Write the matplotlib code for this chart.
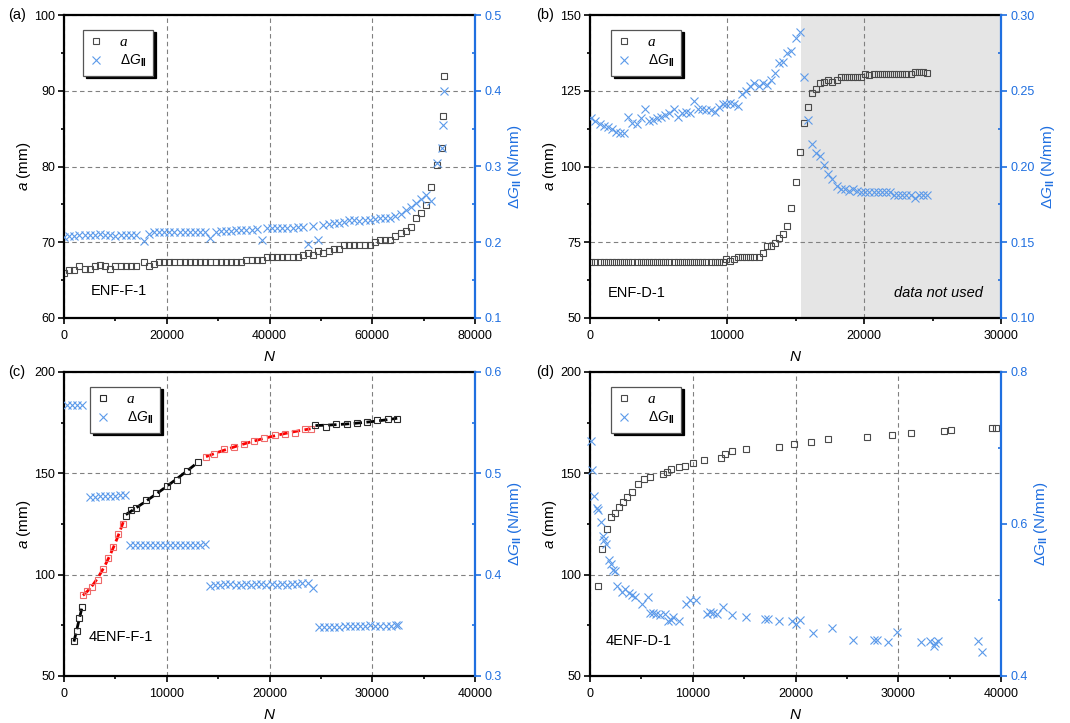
import matplotlib
matplotlib.use('Agg')
import matplotlib.pyplot as plt
from matplotlib.ticker import MultipleLocator, FormatStrFormatter
from matplotlib.lines import Line2D
import numpy as np

plt.rcParams['font.family'] = ['Liberation Sans', 'DejaVu Sans']
plt.rcParams['mathtext.fontset'] = 'custom'
plt.rcParams['mathtext.rm'] = 'Liberation Sans'
plt.rcParams['mathtext.it'] = 'Liberation Sans:italic'
plt.rcParams['mathtext.bf'] = 'Liberation Sans:bold'

# ---------------- data ----------------
# (a) ENF-F-1
a_N = [0, 1000, 2000, 3000, 4000, 5000, 6000, 7000, 8000, 9000, 10000, 11000, 12000, 13000, 14000,
       15500, 16500, 17500, 18500, 19500, 20500, 21500, 22500, 23500, 24500, 25500, 26500, 27500,
       28500, 29500, 30500, 31500, 32500, 33500, 34500, 35500, 36500, 37500, 38500, 39500, 40500,
       41500, 42500, 43500, 44500, 45500, 46500, 47500, 48500, 49500, 50500, 51500, 52500, 53500,
       54500, 55500, 56500, 57500, 58500, 59500, 60500, 61500, 62500, 63500, 64500, 65500, 66500,
       67500, 68500, 69500, 70500, 71500, 72700, 73600, 73800, 73900]
a_a = [65.9, 66.3, 66.3, 66.8, 66.5, 66.5, 66.8, 67.0, 66.8, 66.5, 66.8, 66.8, 66.8, 66.8, 66.8,
       67.4, 66.8, 67.1, 67.4, 67.4, 67.4, 67.4, 67.4, 67.4, 67.4, 67.4, 67.4, 67.4,
       67.4, 67.4, 67.4, 67.4, 67.4, 67.4, 67.4, 67.7, 67.7, 67.7, 67.7, 68.0, 68.0,
       68.0, 68.0, 68.0, 68.0, 68.0, 68.3, 68.6, 68.3, 68.8, 68.6, 68.9, 69.1, 69.1,
       69.7, 69.7, 69.7, 69.7, 69.7, 69.7, 70.0, 70.3, 70.3, 70.3, 70.8, 71.2, 71.5,
       72.0, 73.2, 73.8, 74.9, 77.3, 80.2, 82.5, 86.7, 92.0]
a_G = [0.207, 0.208, 0.208, 0.209, 0.209, 0.210, 0.210, 0.211, 0.210, 0.209, 0.208, 0.210, 0.210, 0.210, 0.209,
       0.201, 0.211, 0.213, 0.214, 0.214, 0.213, 0.214, 0.214, 0.214, 0.214, 0.214, 0.214, 0.214,
       0.206, 0.214, 0.215, 0.215, 0.215, 0.216, 0.216, 0.216, 0.216, 0.217, 0.203, 0.219, 0.219,
       0.219, 0.219, 0.219, 0.219, 0.220, 0.220, 0.198, 0.221, 0.203, 0.223, 0.224, 0.225, 0.225,
       0.227, 0.229, 0.229, 0.228, 0.229, 0.229, 0.231, 0.232, 0.232, 0.232, 0.234, 0.237, 0.242,
       0.247, 0.252, 0.257, 0.262, 0.255, 0.305, 0.324, 0.355, 0.400]

# (b) ENF-D-1
b_N = [100, 400, 700, 1000, 1300, 1600, 1900, 2200, 2500, 2800, 3100, 3400, 3700, 4000, 4300, 4600,
       4900, 5200, 5500, 5800, 6100, 6400, 6700, 7000, 7300, 7600, 7900, 8200, 8500, 8800, 9100,
       9400, 9700,
       9900, 10200, 10500, 10800, 11100, 11400, 11700, 12000, 12300, 12600, 12900, 13200, 13500,
       13800, 14100, 14400, 14700, 15000, 15300, 15600, 15900, 16200, 16500, 16800, 17100, 17400,
       17700, 18000, 18300, 18600, 18900, 19200, 19500, 19800, 20100, 20400, 20700, 21000, 21300,
       21600, 21900, 22200, 22500, 22800, 23100, 23400, 23700, 24000, 24300, 24600]
b_a = [68.5, 68.5, 68.5, 68.5, 68.5, 68.5, 68.5, 68.5, 68.5, 68.5, 68.5, 68.5, 68.5, 68.5, 68.5, 68.5,
       68.5, 68.5, 68.5, 68.5, 68.5, 68.5, 68.5, 68.5, 68.5, 68.5, 68.5, 68.5, 68.5, 68.5, 68.5,
       68.5, 68.5,
       69.5, 68.9, 69.5, 70.1, 70.1, 70.1, 70.1, 70.1, 70.1, 71.4, 73.6, 73.6, 74.7,
       76.4, 77.7, 80.5, 86.3, 94.8, 104.9, 114.3, 119.8, 124.2, 125.5, 127.5, 128.0, 128.6,
       128.0, 128.6, 129.5, 129.7, 129.7, 129.7, 129.7, 129.7, 130.5, 130.3, 130.5, 130.5, 130.5,
       130.5, 130.5, 130.5, 130.5, 130.5, 130.5, 130.5, 131.3, 131.3, 131.3, 130.8]
b_G = [0.232, 0.230, 0.228, 0.227, 0.226, 0.225, 0.223, 0.222, 0.222, 0.233, 0.229, 0.228, 0.232, 0.238, 0.230, 0.231,
       0.232, 0.233, 0.234, 0.235, 0.238, 0.233, 0.235, 0.236, 0.235, 0.243, 0.238, 0.238, 0.237, 0.237, 0.236,
       0.239, 0.241,
       0.241, 0.242, 0.241, 0.240, 0.248, 0.250, 0.253, 0.255, 0.253, 0.255, 0.254, 0.257, 0.262,
       0.268, 0.269, 0.275, 0.276, 0.285, 0.289, 0.259, 0.231, 0.215, 0.209, 0.207, 0.201, 0.195,
       0.192, 0.187, 0.185, 0.185, 0.184, 0.185, 0.184, 0.183, 0.183, 0.183, 0.183, 0.183, 0.183,
       0.183, 0.183, 0.181, 0.181, 0.181, 0.181, 0.181, 0.179, 0.181, 0.181, 0.181]
b_unused_from = 15400

# (c) 4ENF-F-1
c_N = [970, 1230, 1490, 1750,
       1840, 2260, 2750, 3300, 3820, 4270, 4790, 5240, 5760,
       6020, 6540, 7020, 8000, 9000, 10030, 11000, 12000, 13000,
       13820, 14560, 15530, 16500, 17500, 18500, 19500, 20500, 21500, 22500, 23470, 24000,
       24470, 25500, 26470, 27500, 28480, 29480, 30500, 31500, 32430]
c_a = [67.2, 72.1, 78.4, 83.8,
       90.2, 92.0, 94.0, 97.6, 102.6, 108.4, 113.5, 119.9, 124.8,
       129.1, 131.8, 132.8, 136.7, 140.3, 143.8, 146.6, 151.0, 155.8,
       158.1, 159.3, 161.9, 162.9, 164.4, 166.0, 167.4, 168.8, 169.3, 169.8, 172.1, 172.1,
       174.0, 173.1, 174.3, 174.3, 174.6, 175.1, 176.3, 176.8, 176.8]
c_seg_start = [0, 4, 13, 22, 34]
c_seg_end = [4, 13, 22, 34, 43]
c_seg_red = [False, True, False, True, False]
c_GN = [260, 750, 1230, 1720,
        2520, 3010, 3500, 3990, 4470, 4960, 5450, 5920,
        6400, 6890, 7380, 7870, 8360, 8850, 9340, 9830, 10320, 10810, 11300, 11790, 12280, 12770, 13260, 13750,
        14200, 14700, 15200, 15700, 16200, 16700, 17200, 17700, 18200, 18700, 19200, 19700, 20200, 20700,
        21200, 21700, 22200, 22700, 23200, 23700, 24200,
        24800, 25300, 25800, 26300, 26800, 27300, 27800, 28300, 28800, 29300, 29800, 30300, 30800, 31300,
        31800, 32300, 32500]
c_G = [0.567, 0.567, 0.567, 0.567,
       0.477, 0.477, 0.478, 0.478, 0.478, 0.478, 0.479, 0.479,
       0.429, 0.429, 0.429, 0.429, 0.429, 0.429, 0.429, 0.429, 0.429, 0.429, 0.429, 0.429, 0.429, 0.429, 0.429, 0.430,
       0.389, 0.390, 0.390, 0.391, 0.391, 0.390, 0.390, 0.391, 0.390, 0.391, 0.391, 0.390, 0.391, 0.390,
       0.391, 0.390, 0.391, 0.391, 0.392, 0.392, 0.387,
       0.348, 0.348, 0.348, 0.348, 0.348, 0.349, 0.349, 0.349, 0.349, 0.349, 0.350, 0.349, 0.349, 0.349,
       0.349, 0.350, 0.350]

# (d) 4ENF-D-1
d_N = [810, 1200, 1620, 2010, 2400, 2790, 3250, 3640, 4060, 4640, 5260, 5880, 7080, 7470, 7920,
       8670, 9290, 10060, 11100, 12760, 13180, 13800, 15200, 18410, 19840, 21490, 23120, 26980,
       29380, 31200, 34480, 35100, 39120, 39510]
d_a = [94.3, 112.6, 122.5, 128.6, 130.3, 133.6, 136.0, 138.5, 140.8, 144.6, 147.1, 148.4, 149.7, 150.9, 152.0,
       153.2, 153.7, 155.0, 156.7, 157.8, 159.6, 161.1, 161.9, 163.2, 164.4, 165.4, 166.9, 167.9,
       169.0, 169.7, 171.0, 171.5, 172.6, 172.6]
d_GN = [100, 230, 420, 650, 810, 1040, 1230, 1360, 1560, 1820, 2040, 2270, 2430, 2660, 3080, 3410,
        3830, 4060, 4380, 5030, 5620, 5840, 6100, 6430, 6820, 7300, 7630, 7860, 8120, 8700, 9350,
        9740, 10320, 11360, 11690, 11950, 12340, 12990, 13800, 15200, 17050, 17370, 18440, 19640,
        20070, 20450, 21690, 23540, 25550, 27600, 27920, 28990, 29870, 32240, 33050, 33440, 33600,
        33830, 37760, 38150]
d_G = [0.709, 0.671, 0.637, 0.621, 0.618, 0.603, 0.584, 0.579, 0.574, 0.553, 0.547, 0.540, 0.538, 0.518, 0.510, 0.514,
       0.509, 0.506, 0.504, 0.495, 0.504, 0.483, 0.483, 0.481, 0.480, 0.481, 0.472, 0.474, 0.478, 0.472, 0.495,
       0.500, 0.500, 0.482, 0.484, 0.483, 0.481, 0.491, 0.480, 0.477, 0.475, 0.475, 0.473, 0.473,
       0.469, 0.474, 0.456, 0.463, 0.447, 0.447, 0.447, 0.445, 0.458, 0.445, 0.446, 0.440, 0.443,
       0.446, 0.446, 0.432]

# ---------------- style ----------------
W, H = 1070, 723
BLUE_AX = '#1F6FE0'
BLUE_PT = '#5C9AEA'
SQ = '#4a4a4a'
SQ_BLACK = '#2a2a2a'
SQ_RED = '#EE6A6A'

fig = plt.figure(figsize=(W / 100, H / 100), dpi=100)


def make_axes(left_px, top_px, right_px, bottom_px):
    ax = fig.add_axes([left_px / W, 1 - bottom_px / H, (right_px - left_px) / W, (bottom_px - top_px) / H])
    ax2 = ax.twinx()
    return ax, ax2


def style(ax, ax2, xlim, xmaj, ylim, ymaj, y2lim, y2maj, y2fmt):
    ax.set_xlim(xlim)
    ax.set_ylim(ylim)
    ax2.set_ylim(y2lim)
    ax.xaxis.set_major_locator(MultipleLocator(xmaj))
    ax.xaxis.set_minor_locator(MultipleLocator(xmaj / 2))
    ax.yaxis.set_major_locator(MultipleLocator(ymaj))
    ax.yaxis.set_minor_locator(MultipleLocator(ymaj / 2))
    ax2.yaxis.set_major_locator(MultipleLocator(y2maj))
    ax2.yaxis.set_minor_locator(MultipleLocator(y2maj / 2))
    ax2.yaxis.set_major_formatter(FormatStrFormatter(y2fmt))
    ax.set_axisbelow(True)
    ax.grid(True, which='major', ls=(0, (4, 3)), color='#808080', lw=0.8)
    for s in ['left', 'bottom', 'top']:
        ax.spines[s].set_linewidth(1.6)
        ax.spines[s].set_color('black')
    ax.spines['right'].set_visible(False)
    for s in ['left', 'bottom', 'top']:
        ax2.spines[s].set_visible(False)
    ax2.spines['right'].set_color(BLUE_AX)
    ax2.spines['right'].set_linewidth(1.6)
    ax.tick_params(which='both', direction='out', width=1.2, labelsize=9, top=False, right=False)
    ax.tick_params(which='major', length=4.5, pad=2)
    ax.tick_params(which='minor', length=2.5)
    ax.tick_params(axis='x', which='major', pad=4)
    ax2.tick_params(axis='y', which='both', width=1.2, colors=BLUE_AX, labelsize=9)
    ax2.tick_params(axis='y', which='major', direction='out', length=4.5, pad=2)
    ax2.tick_params(axis='y', which='minor', direction='in', length=2.5)
    ax.set_xlabel('$N$', fontsize=11, labelpad=6)
    ax.set_ylabel('$a$ (mm)', fontsize=11, labelpad=1)
    ax2.set_ylabel(r'$\Delta G_{\mathbf{II}}$ (N/mm)', fontsize=11, color=BLUE_AX, rotation=90,
                   labelpad=3)


def legend(ax2, xpos, sq_color):
    h1 = Line2D([], [], ls='none', marker='s', mfc='none', mec=sq_color, ms=4.6, mew=0.8)
    h2 = Line2D([], [], ls='none', marker='x', color=BLUE_PT, ms=5.8, mew=0.8)
    leg = ax2.legend([h1, h2], ['a', r'$\Delta G_{\mathbf{II}}$'], loc='upper left',
                     bbox_to_anchor=(xpos, 0.952), fancybox=False,
                     shadow={'color': 'black', 'alpha': 1.0}, framealpha=1,
                     edgecolor='#555555', fontsize=10, handlelength=1.0,
                     handletextpad=1.2, borderpad=0.45, labelspacing=0.3, borderaxespad=0)
    leg.get_frame().set_linewidth(0.9)
    t = leg.get_texts()[0]
    t.set_fontfamily('Liberation Serif')
    t.set_fontstyle('italic')
    t.set_fontsize(11)
    return leg


sq_kw = dict(ls='none', marker='s', mfc='none', ms=5.0, mew=0.8)
x_kw = dict(ls='none', marker='x', color=BLUE_PT, ms=6.0, mew=0.8)

# (a)
ax, ax2 = make_axes(64, 15, 475, 318)
style(ax, ax2, (0, 80000), 20000, (60, 100), 10, (0.1, 0.5), 0.1, '%.1f')
ax.plot(a_N, a_a, mec=SQ, **sq_kw)
ax2.plot(a_N, a_G, **x_kw)
legend(ax2, 0.046, SQ)
ax.text(0.066, 0.09, 'ENF-F-1', transform=ax.transAxes, fontsize=10.5, va='center', ha='left')

# (b)
ax, ax2 = make_axes(590, 15, 1001, 318)
style(ax, ax2, (0, 30000), 10000, (50, 150), 25, (0.10, 0.30), 0.05, '%.2f')
ax.axvspan(b_unused_from, 30000, color='#e5e5e5', zorder=0.2, lw=0)
ax.plot(b_N, b_a, mec=SQ, **sq_kw)
ax2.plot(b_N, b_G, **x_kw)
legend(ax2, 0.051, SQ)
ax.text(0.044, 0.083, 'ENF-D-1', transform=ax.transAxes, fontsize=10.5, va='center', ha='left')
ax.text(0.956, 0.083, 'data not used', transform=ax.transAxes, fontsize=10.5, va='center',
        ha='right', style='italic')

# (c)
ax, ax2 = make_axes(64, 372, 475, 676)
style(ax, ax2, (0, 40000), 10000, (50, 200), 50, (0.3, 0.6), 0.1, '%.1f')
cN = np.array(c_N, dtype=float)
ca = np.array(c_a, dtype=float)
for i0, i1, red in zip(c_seg_start, c_seg_end, c_seg_red):
    xs, ys = cN[i0:i1], ca[i0:i1]
    col = SQ_RED if red else SQ_BLACK
    deg = 1 if len(xs) < 5 else 2
    p = np.polyfit(xs, ys, deg)
    xx = np.linspace(xs[0], xs[-1], 60)
    ax.plot(xx, np.polyval(p, xx), color='red' if red else 'black', lw=2.0,
            ls=(0, (3, 1.6)), zorder=3)
    ax.plot(xs, ys, mec=col, zorder=4, **sq_kw)
ax2.plot(c_GN, c_G, **x_kw)
legend(ax2, 0.063, SQ_BLACK)
ax.text(0.061, 0.128, '4ENF-F-1', transform=ax.transAxes, fontsize=10.5, va='center', ha='left')

# (d)
ax, ax2 = make_axes(590, 372, 1001, 676)
style(ax, ax2, (0, 40000), 10000, (50, 200), 50, (0.4, 0.8), 0.2, '%.1f')
ax.plot(d_N, d_a, mec=SQ, **sq_kw)
ax2.plot(d_GN, d_G, clip_on=False, **x_kw)
legend(ax2, 0.051, SQ)
ax.text(0.039, 0.115, '4ENF-D-1', transform=ax.transAxes, fontsize=10.5, va='center', ha='left')

# panel letters
for lbl, xp, yp in [('(a)', 8, 15), ('(b)', 536, 15), ('(c)', 8, 372), ('(d)', 536, 372)]:
    fig.text(xp / W, 1 - yp / H, lbl, fontsize=10.5, va='center', ha='left')

fig.savefig('out.png', dpi=100)
